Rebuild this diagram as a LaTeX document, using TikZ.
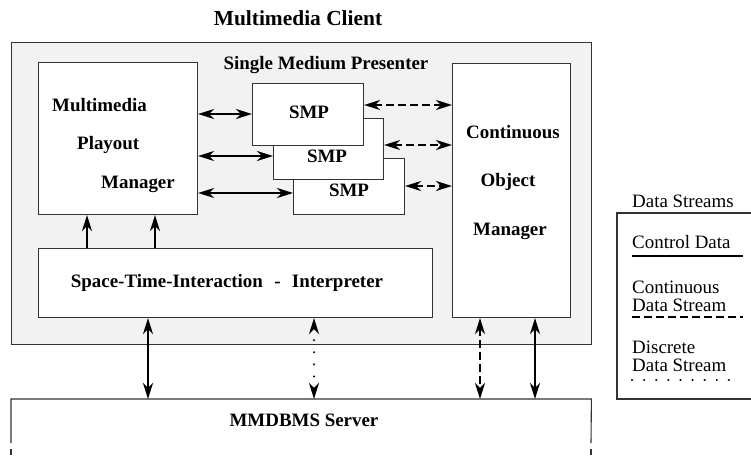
\documentclass[tikz,border=0pt]{standalone}
\usepackage{fontspec}
\setmainfont{Liberation Serif}
\usetikzlibrary{arrows.meta}
\begin{document}
\begin{tikzpicture}[x=1bp,y=-1bp,
  frame/.style={draw=black!80, line width=1.1bp},
  box/.style={frame, fill=white, inner sep=0pt, anchor=north west},
  lbl/.style={font=\fontsize{19}{22}\selectfont\bfseries, inner sep=0pt, anchor=base},
  leg/.style={font=\fontsize{19}{18.5}\selectfont, inner sep=0pt, anchor=north west, align=left},
  flow/.style={line width=2.4bp},
  both/.style={flow, {Stealth[length=16bp,width=10bp,inset=5bp]}-{Stealth[length=16bp,width=10bp,inset=5bp]}},
  up/.style={flow, -{Stealth[length=16bp,width=10bp,inset=5bp]}},
  contdash/.style={dash pattern=on 8bp off 4bp},
  discdot/.style={line cap=round, dash pattern=on 0.1bp off 12bp},
]
\useasboundingbox (0,0) rectangle (751,458);
\fill[white] (0,0) rectangle (751,458);

% client frame and title
\node[box, fill=black!5, minimum width=580bp, minimum height=302bp] (client) at (11,42) {};
\node[lbl, font=\fontsize{21.5}{24}\selectfont\bfseries] (clientlbl) at (298,26) {Multimedia Client};
\node[lbl] (smplbl) at (326,70) {Single Medium Presenter};

% multimedia playout manager
\node[box, minimum width=159bp, minimum height=152bp] (mpm) at (38,62) {};
\node[lbl, anchor=base west] (mpm1) at (52,112) {Multimedia};
\node[lbl, anchor=base west] (mpm2) at (77,149.5) {Playout};
\node[lbl, anchor=base west] (mpm3) at (101,189) {Manager};

% single medium presenters, stacked
\node[box, minimum width=111bp, minimum height=56bp] (smp3) at (293,158) {};
\node[box, minimum width=110bp, minimum height=61bp] (smp2) at (273,118) {};
\node[box, minimum width=111bp, minimum height=62bp] (smp1) at (252,83) {};
\node[lbl] (smp1lbl) at (309,119) {SMP};
\node[lbl] (smp2lbl) at (327,163) {SMP};
\node[lbl] (smp3lbl) at (349,197) {SMP};

% continuous object manager
\node[box, minimum width=118bp, minimum height=254bp] (com) at (452,63) {};
\node[lbl] (com1) at (513,139) {Continuous};
\node[lbl] (com2) at (508,187) {Object};
\node[lbl] (com3) at (510,236) {Manager};

% interpreter
\node[box, minimum width=394bp, minimum height=69bp] (sti) at (38,248) {};
\node[lbl] (stilbl) at (227,288) {Space-Time-Interaction\hspace{0.6em}-\hspace{0.6em}Interpreter};

% server, open at the bottom
\node[inner sep=0pt, anchor=north west, minimum width=580bp, minimum height=56bp] (srv) at (11,399) {};
\draw[frame] (11,443) -- (srv.north west) -- (srv.north east) -- (591,443);
\draw[frame] (11,449) -- (11,455);
\draw[frame] (591,449) -- (591,455);
\node[lbl] (srvlbl) at (304,426) {MMDBMS Server};

% control data between playout manager and presenters
\draw[both] (mpm.east |- 0,114) -- (smp1.west |- 0,114);
\draw[both] (mpm.east |- 0,156) -- (smp2.west |- 0,156);
\draw[both] (mpm.east |- 0,193) -- (smp3.west |- 0,193);

% continuous streams between presenters and object manager
\draw[both, contdash] (smp1.east |- 0,105) -- (com.west |- 0,105);
\draw[both, contdash] (smp2.east |- 0,145) -- (com.west |- 0,145);
\draw[both, contdash] (smp3.east |- 0,186) -- (com.west |- 0,186);

% interpreter drives the playout manager
\draw[up] (87,0 |- sti.north) -- (87,0 |- mpm.south);
\draw[up] (155,0 |- sti.north) -- (155,0 |- mpm.south);

% client <-> server
\draw[both] (148,0 |- sti.south) -- (148,0 |- srv.north);
\draw[both, discdot] (314,0 |- sti.south) -- (314,0 |- srv.north);
\draw[both, contdash] (480,0 |- com.south) -- (480,0 |- srv.north);
\draw[both] (535,0 |- com.south) -- (535,0 |- srv.north);

% legend
\node[leg] (legtitle) at (632,195) {Data Streams};
\draw[frame] (752,213) -- (617,213) -- (617,399) -- (752,399);
\node[leg] (legctrl) at (632,235.5) {Control Data};
\coordinate (lc1) at (632,256);
\coordinate (lc2) at (743,256);
\draw[flow] (lc1) -- (lc2);
\node[leg] (legcont) at (632,280.5) {Continuous\\Data Stream};
\coordinate (ld1) at (632,317);
\coordinate (ld2) at (743,317);
\draw[flow, contdash] (ld1) -- (ld2);
\node[leg] (legdisc) at (632,340.5) {Discrete\\Data Stream};
\coordinate (lt1) at (632,380);
\coordinate (lt2) at (735,380);
\draw[flow, discdot] (lt1) -- (lt2);
\end{tikzpicture}
\end{document}
